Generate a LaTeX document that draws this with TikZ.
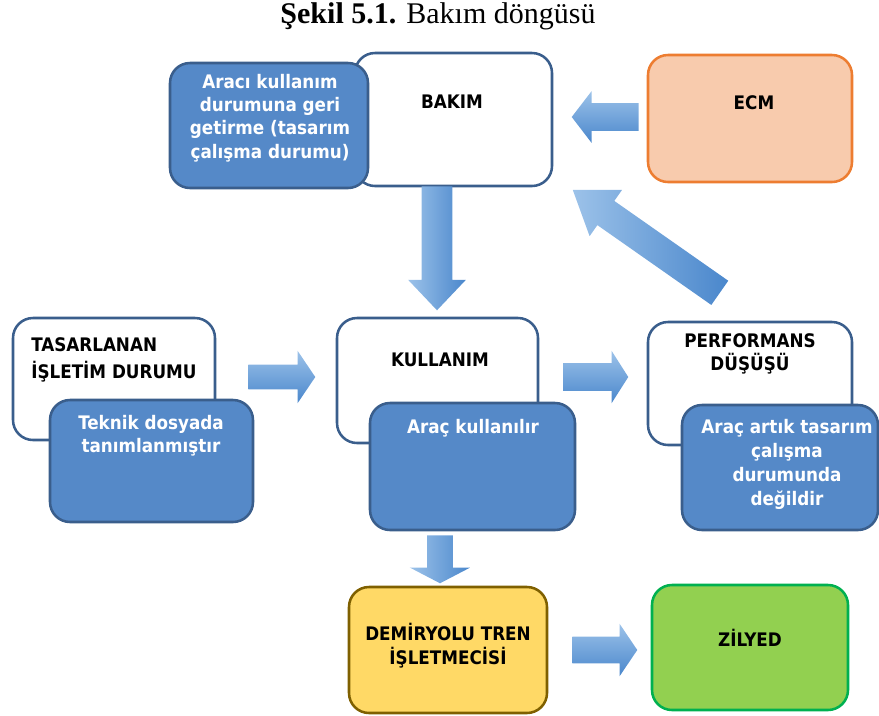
\documentclass[tikz,border=0pt]{standalone}
\usepackage{fontspec}
\setmainfont{Liberation Serif}
\newfontfamily\boxfont{DejaVu Sans Condensed}
\usetikzlibrary{shapes.arrows,calc}

\definecolor{boxblue}{HTML}{5589C8}
\definecolor{boxedge}{HTML}{3A5E8C}
\definecolor{ecmfill}{HTML}{F8CBAD}
\definecolor{ecmedge}{HTML}{ED7D31}
\definecolor{opfill}{HTML}{FFD966}
\definecolor{opedge}{HTML}{7F6000}
\definecolor{keepfill}{HTML}{92D050}
\definecolor{keepedge}{HTML}{00B050}
\definecolor{arrowlight}{HTML}{9CC2E9}
\definecolor{arrowdark}{HTML}{4A87CC}

% one drawing unit = 0.75pt
\newcommand\px[1]{#1*0.75pt}

% block arrow from one named coordinate to another:
% [#1 extra options] #2 name, #3 from, #4 to, #5 shaft width, #6 head width, #7 tip angle
\newcommand\blockarrow[7][]{%
  \path let \p1=($(#4)-(#3)$), \n1={atan2(\y1,\x1)}, \n2={veclen(\x1,\y1)} in
    node[fatarrow, rotate=\n1, minimum height=\n2, inner ysep=\px{#5/2},
         single arrow head extend=\px{(#6-#5)/2}, single arrow tip angle=#7,
         anchor=tail, #1] (#2) at (#3) {};}

\begin{document}
\begin{tikzpicture}[x=0.75pt,y=-0.75pt,
  card/.style={rounded corners=15pt, line width=1.9pt, inner sep=0pt},
  whitecard/.style={card, draw=boxedge, fill=white},
  bluecard/.style={card, draw=boxedge, fill=boxblue},
  ecmcard/.style={card, draw=ecmedge, fill=ecmfill},
  opcard/.style={card, draw=opedge, fill=opfill},
  keepcard/.style={card, draw=keepedge, fill=keepfill},
  darktext/.style={font=\boxfont\bfseries\fontsize{14}{18}\selectfont, text=black, align=center, inner sep=0pt},
  lighttext/.style={font=\boxfont\bfseries\fontsize{14}{17.5}\selectfont, text=white, align=center, inner sep=0pt},
  fatarrow/.style={single arrow, draw=none, inner xsep=0pt, minimum width=0pt,
    text height=0pt, text depth=0pt, text width=0pt,
    single arrow head indent=0pt, top color=arrowlight, bottom color=arrowdark},
  sideshade/.style={left color=arrowlight, right color=arrowdark}
]
\useasboundingbox (0,0) rectangle (879,715);

% title
\node[font=\fontsize{22.5}{26}\selectfont, inner sep=0pt] (title) at (438,16)
  {\textbf{Şekil 5.1.} Bakım döngüsü};

% maintenance
\node[whitecard, minimum width=\px{197}, minimum height=\px{133}] (bakim) at (453.5,119.5) {};
\node[bluecard, minimum width=\px{198}, minimum height=\px{125}] (restore) at (269,125.5) {};
\node[darktext] (bakimT) at (452,102) {BAKIM};
\node[lighttext] (restoreT) at (270,118) {Aracı kullanım\\durumuna geri\\getirme (tasarım\\çalışma durumu)};

% ECM
\node[ecmcard, minimum width=\px{204}, minimum height=\px{127}] (ecm) at (750,118.5) {};
\node[darktext] (ecmT) at (754,103) {ECM};

% designed operating state
\node[whitecard, minimum width=\px{202}, minimum height=\px{122}] (design) at (114,379) {};
\node[bluecard, minimum width=\px{203}, minimum height=\px{122}] (tech) at (151.5,461) {};
\node[darktext, font=\boxfont\bfseries\fontsize{14}{20}\selectfont, align=left, anchor=west] (designT) at (31,360) {TASARLANAN\\İŞLETİM DURUMU};
\node[lighttext] (techT) at (151,436) {Teknik dosyada\\tanımlanmıştır};

% use
\node[whitecard, minimum width=\px{201}, minimum height=\px{125}] (use) at (437.5,380.5) {};
\node[bluecard, minimum width=\px{205}, minimum height=\px{127}] (used) at (472.5,466.5) {};
\node[darktext] (useT) at (440,360) {KULLANIM};
\node[lighttext] (usedT) at (473,428) {Araç kullanılır};

% performance loss
\node[whitecard, minimum width=\px{204}, minimum height=\px{123}] (perf) at (750,383.5) {};
\node[bluecard, minimum width=\px{196}, minimum height=\px{125}] (lost) at (780,467.5) {};
\node[darktext, font=\boxfont\bfseries\fontsize{14}{17}\selectfont] (perfT) at (750,354) {PERFORMANS\\DÜŞÜŞÜ};
\node[lighttext, font=\boxfont\bfseries\fontsize{14}{18}\selectfont] (lostT) at (787,464) {Araç artık tasarım\\çalışma\\durumunda\\değildir};

% railway undertaking and keeper
\node[opcard, minimum width=\px{198}, minimum height=\px{126}] (rail) at (448,650) {};
\node[darktext] (railT) at (448,646) {DEMİRYOLU TREN\\İŞLETMECİSİ};
\node[keepcard, minimum width=\px{196}, minimum height=\px{125}] (keeper) at (750,647.5) {};
\node[darktext] (keeperT) at (750,638) {ZİLYED};

% arrow end points
\coordinate (a1s) at (639,117);  \coordinate (a1e) at (572,117);
\coordinate (a2s) at (720,293);  \coordinate (a2e) at (573,190);
\coordinate (a3s) at (437,186);  \coordinate (a3e) at (437,310);
\coordinate (a4s) at (248,377);  \coordinate (a4e) at (315,377);
\coordinate (a5s) at (563,377);  \coordinate (a5e) at (628,377);
\coordinate (a6s) at (440,535);  \coordinate (a6e) at (440,583);
\coordinate (a7s) at (572,650);  \coordinate (a7e) at (637,650);

\blockarrow{arrA}{a1s}{a1e}{27}{51}{105}
\blockarrow[sideshade]{arrB}{a2s}{a2e}{29}{56}{70}
\blockarrow[sideshade]{arrC}{a3s}{a3e}{30}{57}{87}
\blockarrow{arrD}{a4s}{a4e}{24}{52}{112}
\blockarrow{arrE}{a5s}{a5e}{27}{52}{115}
\blockarrow[sideshade]{arrF}{a6s}{a6e}{25}{60}{125}
\blockarrow{arrG}{a7s}{a7e}{26}{52}{112}
\end{tikzpicture}
\end{document}
